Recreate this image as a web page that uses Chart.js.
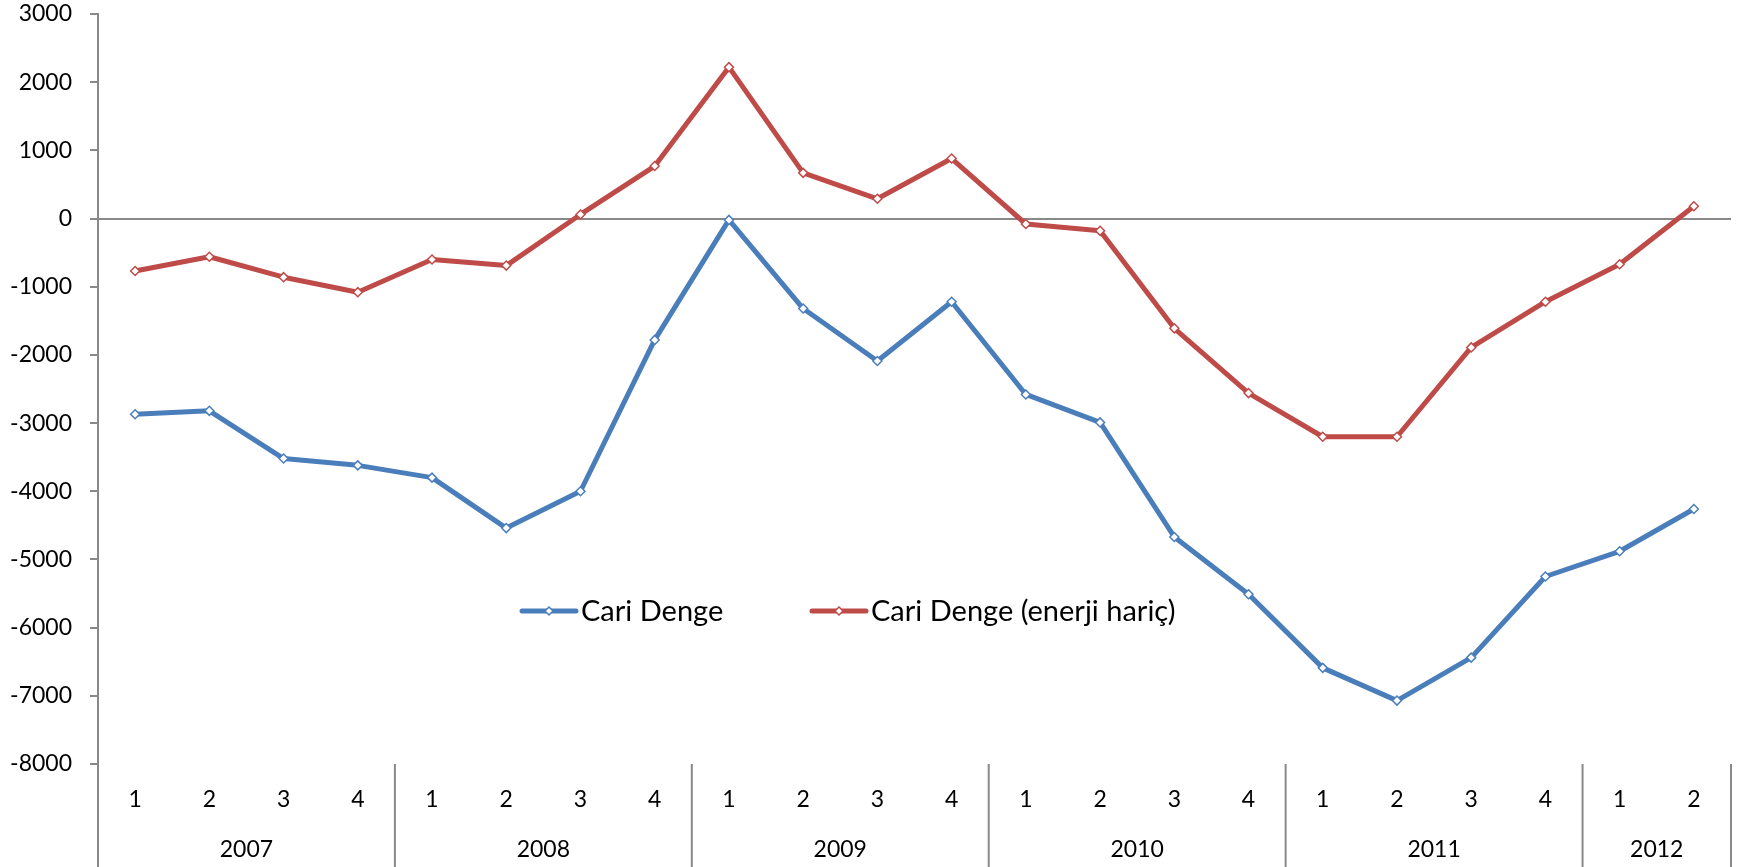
<!DOCTYPE html>
<html>
<head>
<meta charset="utf-8">
<script src="https://cdn.jsdelivr.net/npm/chart.js@4.4.0/dist/chart.umd.min.js"></script>
<style>
  html, body { margin: 0; padding: 0; background: #fff; }
</style>
</head>
<body>
<canvas id="chart" width="1741" height="867"></canvas>
<script>
// quarterly current account balance, 2007 Q1 - 2012 Q2
const years = ["2007", "2008", "2009", "2010", "2011", "2012"];
const quartersPerYear = [4, 4, 4, 4, 4, 2];
const cariDenge = [-2870, -2820, -3520, -3620, -3800, -4540, -4000, -1780,
                   -20, -1320, -2090, -1220, -2580, -2990, -4670, -5510,
                   -6590, -7070, -6440, -5250, -4880, -4260];
const cariDengeEnerjiHaric = [-770, -560, -860, -1080, -600, -690, 60, 770,
                              2220, 670, 290, 880, -80, -180, -1610, -2560,
                              -3200, -3200, -1890, -1220, -670, 180];
const yMin = -8000, yMax = 3000, yStep = 1000;

const AXIS_GREY = "#898989";
const FONT = "Lato, 'Open Sans', sans-serif";

// build category labels like "2007 1"
var labels = [];
var quarterNames = [];
years.forEach(function (y, i) {
    for (var q = 1; q <= quartersPerYear[i]; q++) {
        labels.push(y + " " + q);
        quarterNames.push(String(q));
    }
});

// draws the two level category axis (quarter / year) and the legend
const extrasPlugin = {
    id: "extras",
    afterDraw(chart) {
        const ctx = chart.ctx;
        const area = chart.chartArea;
        const x = chart.scales.x;
        ctx.save();

        // separators below the plot
        ctx.strokeStyle = AXIS_GREY;
        ctx.lineWidth = 2;
        ctx.beginPath();
        ctx.moveTo(area.left, area.bottom);
        ctx.lineTo(area.left, chart.height);
        var k = 0;
        quartersPerYear.forEach(function (n) {
            k += n;
            var px = x.getPixelForValue(k - 0.5);
            ctx.moveTo(px, area.bottom);
            ctx.lineTo(px, chart.height);
        });
        ctx.stroke();

        // quarter and year labels
        ctx.fillStyle = "#000";
        ctx.font = "23px " + FONT;
        ctx.textAlign = "center";
        ctx.textBaseline = "middle";
        quarterNames.forEach(function (q, i) {
            ctx.fillText(q, x.getPixelForValue(i), area.bottom + 36);
        });
        var start = 0;
        years.forEach(function (y, i) {
            var end = start + quartersPerYear[i] - 1;
            var px = (x.getPixelForValue(start) + x.getPixelForValue(end)) / 2;
            ctx.fillText(y, px, area.bottom + 86);
            start = end + 1;
        });

        // legend
        var legendY = 611;
        var items = [{ x: 522, ds: chart.data.datasets[0] }, { x: 812, ds: chart.data.datasets[1] }];
        ctx.textAlign = "left";
        ctx.font = "29px " + FONT;
        items.forEach(function (it) {
            ctx.strokeStyle = it.ds.borderColor;
            ctx.lineWidth = 5;
            ctx.lineCap = "round";
            ctx.beginPath();
            ctx.moveTo(it.x, legendY);
            ctx.lineTo(it.x + 54, legendY);
            ctx.stroke();
            // diamond marker
            var cx = it.x + 27, r = 4;
            ctx.lineWidth = 1.5;
            ctx.fillStyle = "#fff";
            ctx.beginPath();
            ctx.moveTo(cx, legendY - r);
            ctx.lineTo(cx + r, legendY);
            ctx.lineTo(cx, legendY + r);
            ctx.lineTo(cx - r, legendY);
            ctx.closePath();
            ctx.fill();
            ctx.stroke();
            ctx.fillStyle = "#000";
            ctx.fillText(it.ds.label, it.x + 59, legendY + 1);
        });
        ctx.restore();
    }
};

function makeDataset(label, data, color) {
    return {
        label: label,
        data: data,
        borderColor: color,
        borderWidth: 5,
        borderJoinStyle: "round",
        tension: 0,
        pointStyle: "rectRot",
        pointRadius: 4.5,
        pointBorderWidth: 1.5,
        pointBorderColor: color,
        pointBackgroundColor: "#fff",
        fill: false
    };
}

new Chart(document.getElementById("chart"), {
    type: "line",
    data: {
        labels: labels,
        datasets: [
            makeDataset("Cari Denge", cariDenge, "#4A7EBB"),
            makeDataset("Cari Denge (enerji hariç)", cariDengeEnerjiHaric, "#BE4B48")
        ]
    },
    plugins: [extrasPlugin],
    options: {
        responsive: false,
        animation: false,
        devicePixelRatio: 1,
        layout: { padding: { top: 14, right: 10, bottom: 103, left: 0 } },
        plugins: {
            legend: { display: false },
            tooltip: { enabled: false }
        },
        scales: {
            x: {
                display: false,
                offset: true
            },
            y: {
                min: yMin,
                max: yMax,
                ticks: {
                    stepSize: yStep,
                    padding: 18,
                    color: "#000",
                    font: { family: FONT, size: 23 },
                    callback: function (v) { return String(v); }
                },
                grid: {
                    color: function (c) { return c.tick && c.tick.value === 0 ? AXIS_GREY : "rgba(0,0,0,0)"; },
                    lineWidth: 2,
                    tickColor: AXIS_GREY,
                    tickLength: 8,
                    tickWidth: 2
                },
                border: { color: AXIS_GREY, width: 2 },
                afterFit: function (scale) {
                    scale.width = 98;
                    scale.paddingTop = 0;
                    scale.paddingBottom = 0;
                }
            }
        }
    }
});
</script>
</body>
</html>
